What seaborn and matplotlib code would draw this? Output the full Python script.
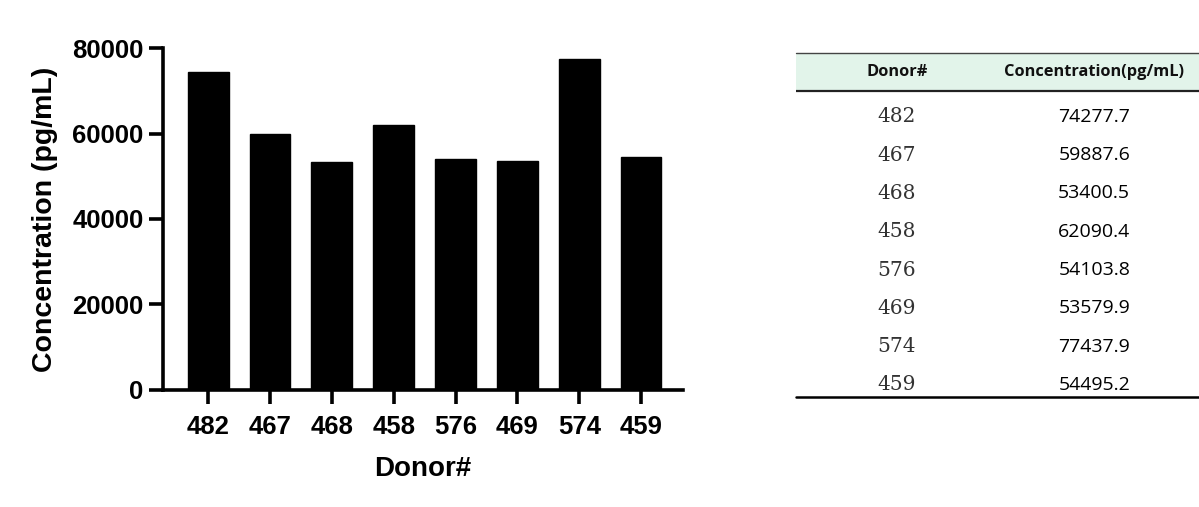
import matplotlib

matplotlib.use("Agg")
import matplotlib.pyplot as plt
import pandas as pd
import seaborn as sns

donors = ["482", "467", "468", "458", "576", "469", "574", "459"]
concentration = [74277.7, 59887.6, 53400.5, 62090.4, 54103.8, 53579.9, 77437.9, 54495.2]
y_ticks = [0, 20000, 40000, 60000, 80000]
table_header = ["Donor#", "Concentration(pg/mL)"]

HEADER_BG = "#e2f4ea"


def plot_bars(fig, data):
    ax = fig.add_axes([0.136, 0.2308, 0.4337, 0.6745])
    sns.barplot(data=data, x="Donor", y="Concentration", color="black",
                width=0.66, saturation=1, edgecolor="black", ax=ax)
    ax.set_ylim(0, 80000)
    ax.set_xlim(-0.73, len(donors) - 0.32)
    ax.set_yticks(y_ticks)
    ax.set_yticklabels([str(t) for t in y_ticks])
    for side in ["top", "right"]:
        ax.spines[side].set_visible(False)
    for side in ["left", "bottom"]:
        ax.spines[side].set_linewidth(2.6)
        ax.spines[side].set_color("black")
    ax.tick_params(axis="both", bottom=True, left=True, length=10, width=2.6,
                   color="black", labelcolor="black", labelsize=18.5, pad=4)
    ax.tick_params(axis="x", pad=8)
    for lbl in ax.get_xticklabels() + ax.get_yticklabels():
        lbl.set_fontweight("bold")
        lbl.set_family("Liberation Sans")
    ax.set_xlabel("Donor#", fontsize=20, fontweight="bold", family="Liberation Sans",
                  color="black", labelpad=12)
    ax.set_ylabel("Concentration (pg/mL)", fontsize=20.5, fontweight="bold",
                  family="Liberation Sans", color="black", labelpad=10)
    ax.grid(False)
    ax.set_facecolor("white")


def plot_table(fig):
    ax = fig.add_axes([796 / 1199, 1 - 397 / 507, 403 / 1199, 344 / 507])
    ax.set_xlim(0, 1)
    top, head_bottom, bottom = -1.673, -0.68, len(donors) - 0.68
    ax.set_ylim(bottom, top)
    ax.axis("off")
    ax.axhspan(top, head_bottom, color=HEADER_BG, lw=0)
    ax.axhline(top, color="#444444", lw=1.0, clip_on=False)
    ax.axhline(head_bottom, color="#222222", lw=1.6)
    ax.axhline(bottom, color="black", lw=1.8, clip_on=False)
    col_x = [0.25, 0.74]
    header_y = (top + head_bottom) / 2
    for x, h in zip(col_x, table_header):
        ax.text(x, header_y, h, ha="center", va="center", fontsize=11.8,
                fontweight="bold", family="Open Sans", color="#111111")
    for i, (d, c) in enumerate(zip(donors, concentration)):
        ax.text(col_x[0], i, d, ha="center", va="center", fontsize=14.5,
                family="DejaVu Serif", color="#333333")
        ax.text(col_x[1], i, f"{c:.1f}", ha="center", va="center", fontsize=14,
                family="Open Sans", color="black")


def main():
    sns.set_theme(style="white")
    data = pd.DataFrame({"Donor": donors, "Concentration": concentration})
    fig = plt.figure(figsize=(11.99, 5.07), dpi=100, facecolor="white")
    plot_bars(fig, data)
    plot_table(fig)
    fig.savefig("out.png", dpi=100, facecolor="white")
    plt.close(fig)


if __name__ == "__main__":
    main()
